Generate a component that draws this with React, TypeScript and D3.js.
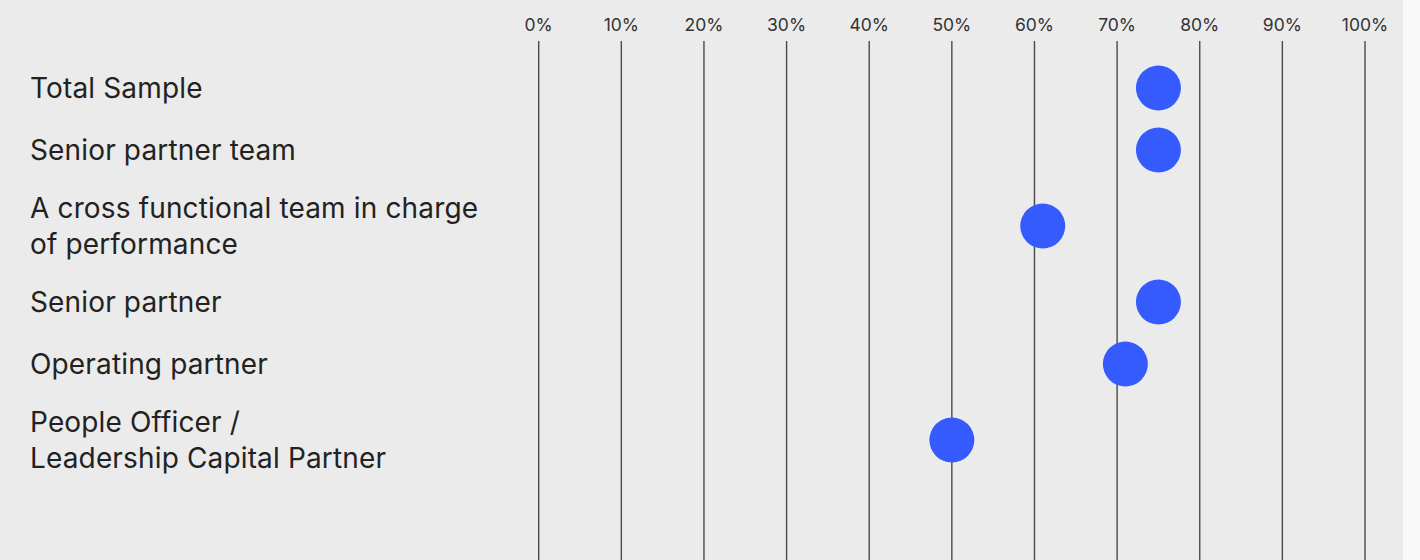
import React from "react";
import * as d3 from "d3";

const categories: string[][] = [
  ["Total Sample"],
  ["Senior partner team"],
  ["A cross functional team in charge", "of performance"],
  ["Senior partner"],
  ["Operating partner"],
  ["People Officer /", "Leadership Capital Partner"],
];
const values: number[] = [75, 75, 61, 75, 71, 50];
const tickValues: number[] = [0, 10, 20, 30, 40, 50, 60, 70, 80, 90, 100];

const W = 1420;
const H = 560;
const PANEL_W = 1403;
const FONT = "Inter, 'Noto Sans', sans-serif";

export default function App() {
  const x = d3.scaleLinear().domain([0, 100]).range([538.7, 1365]);
  const lineH = 36;
  const startY = 57;
  const rows: { y: number; lines: string[]; v: number }[] = [];
  let cur = startY;
  categories.forEach((lines, i) => {
    const h = 34 + lines.length * 28;
    rows.push({ y: cur + h / 2, lines, v: values[i] });
    cur += h;
  });
  const fmt = (d: number) => `${d}%`;
  return (
    <svg
      width={W}
      height={H}
      style={{ position: "absolute", left: 0, top: 0, display: "block" }}
    >
      <rect x={0} y={0} width={W} height={H} fill="#f9f9f9" />
      <rect x={0} y={0} width={PANEL_W} height={H} fill="#ebebeb" />
      {tickValues.map((t) => (
        <g key={t}>
          <line
            x1={x(t)}
            x2={x(t)}
            y1={41}
            y2={H}
            stroke="#4a4a4a"
            strokeWidth={1.4}
          />
          <text
            x={x(t)}
            y={31}
            textAnchor="middle"
            fontFamily={FONT}
            fontSize={17.5}
            fill="#333"
          >
            {fmt(t)}
          </text>
        </g>
      ))}
      {rows.map((r, i) => {
        const n = r.lines.length;
        const firstBaseline = r.y + 9.5 - ((n - 1) * lineH) / 2;
        return (
          <g key={i}>
            <text fontFamily={FONT} fontSize={28} letterSpacing={0.15} fill="#222">
              {r.lines.map((l, j) => (
                <tspan key={j} x={30} y={firstBaseline + j * lineH}>
                  {l}
                </tspan>
              ))}
            </text>
            <circle cx={x(r.v)} cy={r.y} r={22.5} fill="#355bff" />
          </g>
        );
      })}
    </svg>
  );
}
